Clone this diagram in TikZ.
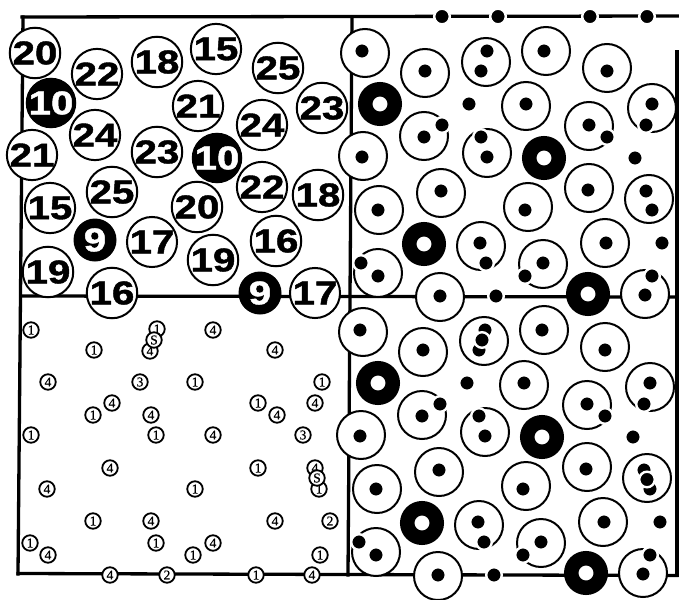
\documentclass[tikz,border=0pt]{standalone}
\usepackage{fontspec}
\usepackage{graphicx}
\newfontfamily\sansb{Liberation Sans}[BoldFeatures={FakeBold=1.2}]
\newfontfamily\serifn{Liberation Serif}[FakeBold=0.6]
\newcommand\bignum[1]{\scalebox{1.22}[1]{#1}}
\tikzset{
 frame/.style={line width=3.3pt, line cap=rect},
 bigw/.style={circle, draw, fill=white, line width=2pt, minimum size=48pt, inner sep=0pt,
   font=\sansb\fontsize{33}{33}\selectfont\bfseries},
 bigb/.style={circle, fill=black, text=white, minimum size=43pt, inner sep=0pt,
   font=\sansb\fontsize{33}{33}\selectfont\bfseries},
 outc/.style={circle, draw, fill=white, line width=2pt, minimum size=48pt, inner sep=0pt},
 ringc/.style={circle, draw=black, fill=white, line width=14.5pt, minimum size=29.5pt, inner sep=0pt},
 dotc/.style={circle, fill=black, draw=white, line width=2.4pt, minimum size=15.6pt, inner sep=0pt},
 smallc/.style={circle, draw, fill=white, line width=1.8pt, minimum size=15.5pt, inner sep=0pt,
   font=\serifn\fontsize{13.5}{13.5}\selectfont},
}
\newcommand\rpanel[1]{%
 \node[outc] (A#1) at (365,53) {};
 \node[outc] (B#1) at (425,73) {};
 \node[outc] (C#1) at (486,62) {};
 \node[outc] (D#1) at (546,51) {};
 \node[outc] (E#1) at (607,68) {};
 \node[ringc] (F#1) at (380,104) {};
 \node[outc] (H#1) at (526,106) {};
 \node[outc] (I#1) at (652,108) {};
 \node[outc] (J#1) at (424,136) {};
 \node[outc] (K#1) at (589,126) {};
 \node[outc] (L#1) at (487,153) {};
 \node[ringc] (M#1) at (544,158) {};
 \node[outc] (O#1) at (363,156) {};
 \node[outc] (P#1) at (441,193) {};
 \node[outc] (Q#1) at (379,210) {};
 \node[outc] (R#1) at (528,207) {};
 \node[outc] (S#1) at (589,188) {};
 \node[outc] (T#1) at (649,199) {};
 \node[ringc] (U#1) at (424,244) {};
 \node[outc] (V#1) at (481,246) {};
 \node[outc] (W#1) at (605,243) {};
 \node[outc] (Y#1) at (543,264) {};
 \node[outc] (Z#1) at (378,273) {};
 \node[outc] (AA#1) at (440,297) {};
 \node[ringc] (AC#1) at (588,294) {};
 \node[outc] (AD#1) at (645,294) {};
 \node[dotc] (a#1) at (362,51) {};
 \node[dotc] (b#1) at (425,71) {};
 \node[dotc] (ca#1) at (487,51) {};
 \node[dotc] (cb#1) at (481,71) {};
 \node[dotc] (d#1) at (544,51) {};
 \node[dotc] (e#1) at (607,71) {};
 \node[dotc] (g#1) at (469,104) {};
 \node[dotc] (h#1) at (526,104) {};
 \node[dotc] (ia#1) at (652,104) {};
 \node[dotc] (ib#1) at (646,125) {};
 \node[dotc] (ja#1) at (424,137) {};
 \node[dotc] (jb#1) at (442,125) {};
 \node[dotc] (ka#1) at (589,125) {};
 \node[dotc] (kb#1) at (607,137) {};
 \node[dotc] (la#1) at (481,137) {};
 \node[dotc] (lb#1) at (487,157) {};
 \node[dotc] (n#1) at (635,158) {};
 \node[dotc] (o#1) at (362,157) {};
 \node[dotc] (p#1) at (441,191) {};
 \node[dotc] (q#1) at (378,210) {};
 \node[dotc] (r#1) at (525,210) {};
 \node[dotc] (s#1) at (588,190) {};
 \node[dotc] (ta#1) at (646,191) {};
 \node[dotc] (tb#1) at (652,210) {};
 \node[dotc] (va#1) at (480,243) {};
 \node[dotc] (vb#1) at (486,263) {};
 \node[dotc] (w#1) at (606,243) {};
 \node[dotc] (x#1) at (662,243) {};
 \node[dotc] (ya#1) at (543,263) {};
 \node[dotc] (yb#1) at (525,276) {};
 \node[dotc] (za#1) at (361,263) {};
 \node[dotc] (zb#1) at (378,276) {};
 \node[dotc] (aa#1) at (440,296) {};
 \node[dotc] (ab#1) at (496,296) {};
 \node[dotc] (ada#1) at (652,276) {};
 \node[dotc] (adb#1) at (645,295) {};
}
\begin{document}
\begin{tikzpicture}[x=1pt,y=-1pt]
\useasboundingbox (0,0) rectangle (679,599);
\fill[white] (0,0) rectangle (679,599);
% frame
\draw[frame] (22,17) -- (679,16);
\draw[frame] (23,17) -- (18,574);
\draw[frame] (18,573.5) -- (677,575.5);
\draw[frame] (352,17) -- (348,575);
\draw[frame] (21,296) -- (677,297);
\draw[frame] (677,52) -- (677,575.5);
% dots on the top border
\node[dotc] (td1) at (442,16.5) {};
\node[dotc] (td2) at (498,16.5) {};
\node[dotc] (td3) at (590,16.5) {};
\node[dotc] (td4) at (647,16.5) {};
% top-left numbered circles
\node[bigw] (n1) at (35,53) {\bignum{20}};
\node[bigw] (n2) at (97,74) {\bignum{22}};
\node[bigw] (n3) at (157,62) {\bignum{18}};
\node[bigw] (n4) at (216,49) {\bignum{15}};
\node[bigw] (n5) at (278,68) {\bignum{25}};
\node[bigb] (n6) at (51,103) {\bignum{10}};
\node[bigw] (n7) at (198,106) {\bignum{21}};
\node[bigw] (n8) at (262,125) {\bignum{24}};
\node[bigw] (n9) at (322,108) {\bignum{23}};
\node[bigw] (n10) at (95,135) {\bignum{24}};
\node[bigw] (n11) at (32,155) {\bignum{21}};
\node[bigw] (n12) at (157,152) {\bignum{23}};
\node[bigb] (n13) at (217,158) {\bignum{10}};
\node[bigw] (n14) at (262,187) {\bignum{22}};
\node[bigw] (n15) at (318,195) {\bignum{18}};
\node[bigw] (n16) at (112,192) {\bignum{25}};
\node[bigw] (n17) at (50,208) {\bignum{15}};
\node[bigw] (n18) at (197,207) {\bignum{20}};
\node[bigb] (n19) at (95,240) {\bignum{9}};
\node[bigw] (n20) at (152,242) {\bignum{17}};
\node[bigw] (n21) at (276,241) {\bignum{16}};
\node[bigw] (n22) at (213,260) {\bignum{19}};
\node[bigw] (n23) at (48,272) {\bignum{19}};
\node[bigw] (n24) at (112,293) {\bignum{16}};
\node[bigb] (n25) at (260,293) {\bignum{9}};
\node[bigw] (n26) at (315,293) {\bignum{17}};
% bottom-left small labelled circles
\node[smallc] (s1) at (31,330) {1};
\node[smallc] (s2) at (94,350) {1};
\node[smallc] (s3) at (157,329) {1};
\node[smallc] (s4) at (150,351) {4};
\node[smallc] (s5) at (154,340) {S};
\node[smallc] (s6) at (213,330) {4};
\node[smallc] (s7) at (275,350) {4};
\node[smallc] (s8) at (48,382) {4};
\node[smallc] (s9) at (140,382) {3};
\node[smallc] (s10) at (195,382) {1};
\node[smallc] (s11) at (322,382) {1};
\node[smallc] (s12) at (315,403) {4};
\node[smallc] (s13) at (93,415) {1};
\node[smallc] (s14) at (112,403) {4};
\node[smallc] (s15) at (258,403) {1};
\node[smallc] (s16) at (277,415) {4};
\node[smallc] (s17) at (151,415) {4};
\node[smallc] (s18) at (156,435) {1};
\node[smallc] (s19) at (213,435) {4};
\node[smallc] (s20) at (303,435) {3};
\node[smallc] (s21) at (31,435) {1};
\node[smallc] (s22) at (110,468) {4};
\node[smallc] (s23) at (47,489) {4};
\node[smallc] (s24) at (195,489) {1};
\node[smallc] (s25) at (258,468) {1};
\node[smallc] (s26) at (315,468) {4};
\node[smallc] (s27) at (319,489) {1};
\node[smallc] (s28) at (317,478) {S};
\node[smallc] (s29) at (93,521) {1};
\node[smallc] (s30) at (151,521) {4};
\node[smallc] (s31) at (156,543) {1};
\node[smallc] (s32) at (275,521) {4};
\node[smallc] (s33) at (330,521) {2};
\node[smallc] (s34) at (213,543) {4};
\node[smallc] (s35) at (193,555) {1};
\node[smallc] (s36) at (30,543) {1};
\node[smallc] (s37) at (48,555) {4};
\node[smallc] (s38) at (320,555) {1};
\node[smallc] (s39) at (110,575) {4};
\node[smallc] (s40) at (167,575) {2};
\node[smallc] (s41) at (256,575) {1};
\node[smallc] (s42) at (312,575) {4};
% right panels
\begin{scope}
 \rpanel{t}
\end{scope}
\begin{scope}[shift={(-2,279)}]
 \rpanel{b}
 \node[dotc] (cm) at (484,61) {};
 \node[dotc] (tm) at (649,200.5) {};
\end{scope}
\end{tikzpicture}
\end{document}
